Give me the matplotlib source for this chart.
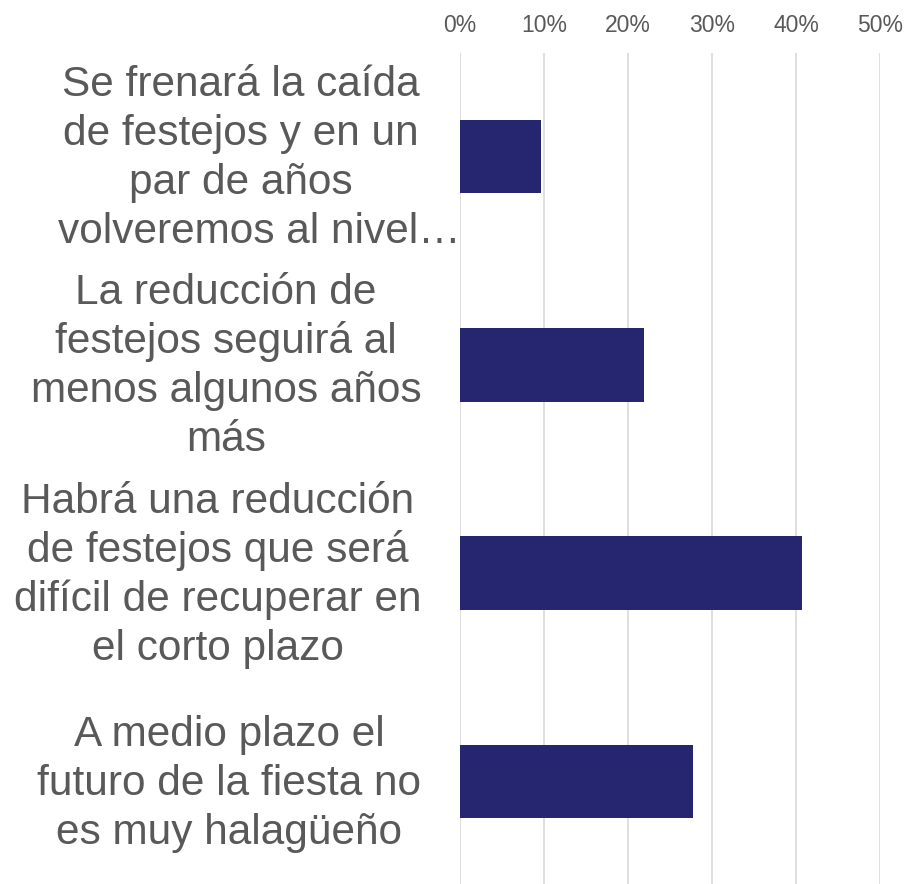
import matplotlib
matplotlib.use("Agg")
import matplotlib.pyplot as plt
from matplotlib.transforms import blended_transform_factory

categories = [
    "Se frenará la caída\nde festejos y en un\npar de años\nvolveremos al nivel…",
    "La reducción de\nfestejos seguirá al\nmenos algunos años\nmás",
    "Habrá una reducción\nde festejos que será\ndifícil de recuperar en\nel corto plazo",
    "A medio plazo el\nfuturo de la fiesta no\nes muy halagüeño",
]
values = [9.7, 21.9, 40.7, 27.7]
xticks = [0, 10, 20, 30, 40, 50]
xtick_labels = ["0%", "10%", "20%", "30%", "40%", "50%"]

W, H = 905, 884
fig = plt.figure(figsize=(W / 100, H / 100), dpi=100)
plt.rcParams['font.family'] = ['Liberation Sans', 'DejaVu Sans']

ax_top_px = 52.5
ax = fig.add_axes([460 / W, 0, 420 / W, (H - ax_top_px) / H])
unit_px = 208.3
ymax = -0.5 + (H - ax_top_px) / unit_px

ypos = list(range(len(values)))
ax.barh(ypos, values, height=0.353, color="#262670", zorder=3)
ax.set_xlim(0, 50)
ax.set_ylim(ymax, -0.5)

ax.xaxis.tick_top()
ax.set_xticks(xticks)
ax.set_xticklabels(xtick_labels, fontsize=16.5, color="#595959")
ax.tick_params(axis='x', length=0, pad=11)
ax.set_yticks([])
for s in ax.spines.values():
    s.set_visible(False)
ax.grid(axis='x', color="#d9d9d9", linewidth=1.2, zorder=0)

# category labels, drawn line by line (centered blocks to the left of the axis)
centers_px = [241, 226, 218, 229]
trans = blended_transform_factory(fig.transFigure, ax.transData)
line_px = 49.0
for i, (lab, cx) in enumerate(zip(categories, centers_px)):
    lines = lab.split("\n")
    n = len(lines)
    for j, ln in enumerate(lines):
        off = ((j - (n - 1) / 2) * line_px + 13) / unit_px
        x = cx
        if i == 0 and j == n - 1:
            x = cx + 18
        ax.text(x / W, i + off, ln, transform=trans, ha='center', va='baseline',
                fontsize=30.5, color="#595959", clip_on=False)

fig.savefig("out.png", dpi=100)
